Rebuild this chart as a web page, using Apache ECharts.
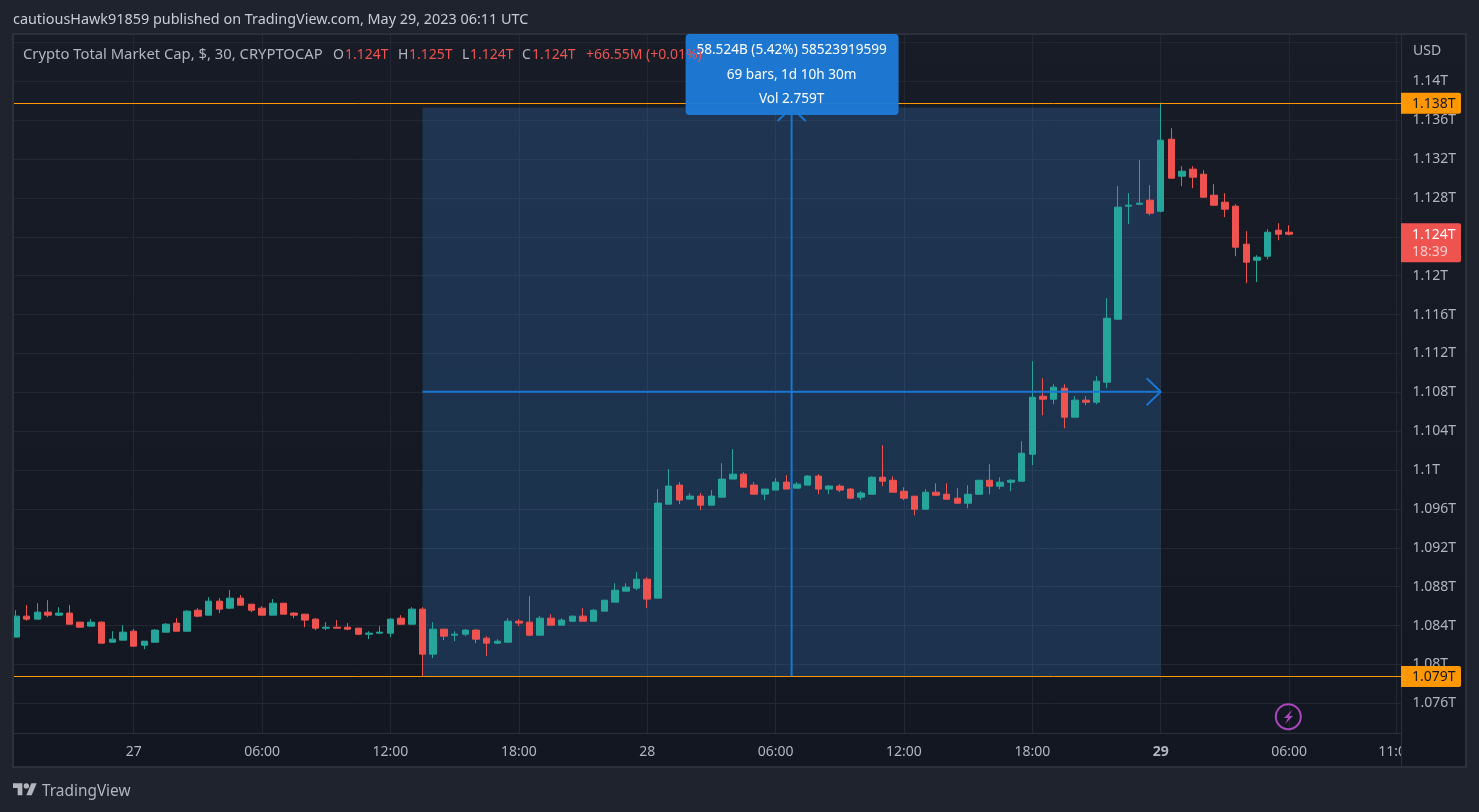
<!DOCTYPE html>
<html><head><meta charset="utf-8">
<script src="https://cdn.jsdelivr.net/npm/echarts@6/dist/echarts.min.js"></script>
<style>html,body{margin:0;padding:0;background:#1f232e;overflow:hidden}#c{width:1479px;height:812px}</style>
</head><body><div id="c"></div>
<script>
// candle values in billions USD
const opens=[1082.81,1084.97,1084.66,1085.38,1085.07,1085.28,1084.35,1083.94,1084.35,1082.29,1082.50,1083.42,1081.98,1082.29,1083.32,1084.25,1083.42,1085.58,1085.07,1086.51,1085.79,1086.82,1086.20,1085.79,1085.07,1086.30,1085.28,1085.17,1084.66,1083.73,1083.83,1083.83,1083.73,1083.11,1083.22,1083.22,1084.76,1084.14,1085.69,1081.06,1083.63,1083.01,1083.11,1083.53,1082.70,1082.19,1082.29,1084.45,1084.35,1083.01,1084.76,1084.04,1084.45,1084.97,1084.45,1085.48,1086.41,1087.54,1087.85,1088.77,1086.82,1096.49,1098.45,1097.01,1097.32,1096.39,1097.21,1099.07,1099.58,1098.45,1097.52,1097.94,1098.76,1098.14,1098.45,1099.38,1098.04,1098.35,1098.04,1097.21,1097.51,1099.26,1098.95,1097.82,1097.31,1095.97,1097.72,1097.51,1097.10,1096.59,1097.51,1098.95,1098.34,1098.75,1098.85,1101.63,1107.60,1107.29,1108.42,1105.44,1107.19,1106.98,1109.04,1115.52,1127.15,1127.35,1127.77,1126.63,1134.04,1130.24,1130.96,1130.44,1128.28,1127.56,1127.15,1123.24,1121.59,1122.00,1124.68,1124.47];
const closes=[1084.97,1084.66,1085.38,1085.07,1085.28,1084.14,1083.83,1084.35,1082.19,1082.60,1083.32,1081.88,1082.39,1083.53,1084.14,1083.42,1085.48,1084.97,1086.51,1085.69,1086.82,1086.10,1085.58,1085.07,1086.30,1085.17,1085.07,1084.56,1083.73,1083.83,1083.73,1083.63,1083.11,1083.22,1083.32,1084.66,1084.14,1085.69,1081.06,1083.63,1082.91,1083.11,1083.53,1082.60,1082.19,1082.39,1084.45,1084.25,1083.01,1084.76,1084.04,1084.56,1084.97,1084.45,1085.58,1086.61,1087.64,1087.95,1088.77,1086.72,1096.60,1098.35,1096.91,1097.32,1096.39,1097.32,1099.07,1099.58,1098.24,1097.52,1098.04,1098.76,1098.04,1098.55,1099.38,1098.04,1098.35,1097.94,1097.11,1097.63,1099.26,1098.85,1097.72,1097.10,1095.97,1097.72,1097.41,1097.00,1096.59,1097.51,1098.95,1098.34,1098.75,1098.95,1101.73,1107.49,1107.29,1108.52,1105.44,1107.19,1106.98,1109.14,1115.62,1127.05,1127.25,1127.46,1126.43,1133.94,1130.03,1130.75,1130.13,1128.07,1127.25,1126.84,1122.93,1121.39,1121.90,1124.47,1124.27,1124.27];
const lows=[1082.81,1084.49,1084.66,1084.86,1084.97,1084.14,1083.83,1083.94,1082.19,1082.29,1082.50,1081.88,1081.57,1082.29,1083.32,1083.42,1083.42,1084.86,1085.07,1085.28,1085.69,1086.10,1085.38,1085.07,1085.07,1085.17,1084.76,1083.83,1083.53,1083.53,1083.73,1083.53,1083.01,1082.60,1083.22,1082.81,1084.14,1084.14,1078.79,1080.64,1082.50,1082.39,1082.91,1082.19,1080.85,1082.09,1082.29,1083.94,1082.91,1083.01,1084.04,1084.04,1084.35,1084.45,1084.45,1085.48,1086.41,1087.54,1087.64,1085.79,1086.82,1096.49,1096.49,1097.01,1095.88,1096.39,1097.21,1099.07,1098.24,1097.52,1096.91,1097.94,1098.04,1098.14,1098.45,1097.52,1097.52,1097.73,1097.01,1096.91,1097.51,1098.34,1097.72,1096.90,1095.35,1095.97,1097.41,1097.00,1096.59,1096.07,1097.51,1097.51,1098.03,1097.82,1098.85,1100.50,1105.64,1106.77,1104.30,1105.44,1106.67,1106.77,1108.42,1115.52,1125.30,1127.25,1126.22,1126.53,1130.03,1129.21,1129.00,1128.07,1127.25,1126.02,1122.00,1119.22,1119.33,1121.69,1123.65,1124.16];
const highs=[1085.58,1086.10,1086.30,1086.61,1085.89,1086.10,1084.35,1084.66,1084.45,1083.42,1084.04,1083.63,1082.39,1083.63,1084.25,1084.76,1085.58,1085.79,1086.92,1086.82,1087.64,1087.13,1086.20,1085.99,1086.72,1086.30,1085.38,1085.17,1084.76,1084.35,1084.56,1084.25,1083.73,1083.42,1083.94,1084.76,1085.07,1085.89,1085.89,1084.35,1083.63,1083.42,1083.63,1083.63,1082.91,1082.60,1084.76,1084.66,1087.02,1084.97,1085.17,1084.76,1084.97,1085.79,1085.69,1086.61,1088.36,1088.36,1089.49,1088.98,1098.04,1100.10,1098.76,1097.63,1097.63,1097.94,1100.71,1102.15,1099.79,1098.76,1098.04,1099.17,1099.48,1098.76,1099.48,1099.58,1098.45,1098.55,1098.14,1097.83,1099.36,1102.55,1099.36,1098.23,1097.31,1098.03,1098.64,1098.64,1098.13,1098.44,1098.95,1100.60,1099.26,1099.06,1102.97,1111.20,1109.45,1108.83,1108.83,1107.60,1107.60,1109.65,1117.68,1129.21,1128.49,1131.88,1129.31,1137.80,1135.17,1131.26,1131.26,1130.85,1129.41,1128.49,1127.35,1124.58,1122.11,1124.78,1125.40,1125.19];
// time axis: bar index -> label (12 bars = 6 hours), 10 empty bars to the right
const barCount=130;
const timeTickIndex=[11,23,35,47,59,71,83,95,107,119,129];
const timeTickLabels=['27','06:00','12:00','18:00','28','06:00','12:00','18:00','29','06:00','11:00'];
const boldTimeLabels=['29'];
const priceTicks=[1076,1080,1084,1088,1092,1096,1100,1104,1108,1112,1116,1120,1124,1128,1132,1136,1140];
const priceTickLabels=['1.076T','1.08T','1.084T','1.088T','1.092T','1.096T','1.1T','1.104T','1.108T','1.112T','1.116T','1.12T','1.124T','1.128T','1.132T','1.136T','1.14T'];
const measureStart=38, measureEnd=107, measureMid=72.5;
const measureLow=1078.79, measureHigh=1137.31, measureCenter=1108.05;
const rangeHigh=1137.75, rangeLow=1078.77, lastPrice=1124.27;
const vLine=[[measureMid,measureLow],[measureMid,measureHigh]];
const hLine=[[measureStart,measureCenter],[measureEnd,measureCenter]];
const upChevron=[[71.19,1135.92],[measureMid,measureHigh],[73.81,1135.92]];
const rightChevron=[[105.69,1109.44],[measureEnd,measureCenter],[105.69,1106.66]];
const infoLines=['58.524B (5.42%) 58523919599','69 bars, 1d 10h 30m','Vol 2.759T'];
const headerText='cautiousHawk91859 published on TradingView.com, May 29, 2023 06:11 UTC';
const legendParts=[['Crypto Total Market Cap, $, 30, CRYPTOCAP',23,0,14.8],['O',333,0,14],['1.124T',345,1,14],['H',398,0,14],['1.125T',409,1,14],['L',462,0,14],['1.124T',470,1,14],['C',522,0,14],['1.124T',532,1,14],['+66.55M',586,1,14],['(+0.01%)',646,1,14]];

const FONT='"Noto Sans"';
const PAGE='#1f232e',GREEN='#26a69a',RED='#ef5350',GRID='#232733',BORDER='#2c303b',TXT='#b2b5be',BLUE='#1976d2',ORANGE='#ff9800';
const categories=Array.from({length:barCount},(_,i)=>{const k=timeTickIndex.indexOf(i);return k>=0?timeTickLabels[k]:'';});
const candles=opens.map((o,i)=>[o,closes[i],lows[i],highs[i]]);
const isTick=i=>timeTickIndex.indexOf(i)>=0;
const blueLine=(data)=>({type:'line',xAxisIndex:1,yAxisIndex:0,data,showSymbol:false,symbol:'none',silent:true,animation:false,z:5,lineStyle:{color:BLUE,width:2}});

const chart=echarts.init(document.getElementById('c'),null,{renderer:'canvas'});
chart.setOption({
 animation:false,
 backgroundColor:PAGE,
 grid:{left:10.65,top:3.54,width:1390.75,height:738.64,containLabel:false},
 xAxis:[{type:'category',data:categories,boundaryGap:true,position:'bottom',
   axisLine:{show:false},axisTick:{show:false,alignWithLabel:true},
   alignWithLabel:true,
   splitLine:{show:true,interval:(i)=>isTick(i),alignWithLabel:true,lineStyle:{color:GRID,width:1}},
   axisLabel:{interval:(i)=>isTick(i),margin:3,hideOverlap:false,showMinLabel:true,showMaxLabel:true,color:TXT,fontFamily:FONT,fontSize:14,
     formatter:(v)=>boldTimeLabels.indexOf(v)>=0?'{b|'+v+'}':v,rich:{b:{fontWeight:'bold',fontSize:14,fontFamily:FONT,color:TXT}}}},
  {type:'value',min:-0.5,max:129.5,show:false,splitLine:{show:false}}],
 yAxis:{type:'value',position:'right',min:1072,max:1148,interval:4,scale:true,
   axisLine:{show:true,onZero:false,lineStyle:{color:BORDER,width:1}},axisTick:{show:false},
   splitLine:{show:true,lineStyle:{color:GRID,width:1}},
   axisLabel:{margin:11,align:'left',color:TXT,fontFamily:FONT,fontSize:14,padding:[4,0,0,0],
     formatter:(v)=>{const k=priceTicks.indexOf(Math.round(v*100)/100);return k>=0?priceTickLabels[k]:'';}}},
 series:[
  {type:'candlestick',xAxisIndex:0,yAxisIndex:0,data:candles,barWidth:7,z:3,silent:true,
   itemStyle:{color:GREEN,color0:RED,borderColor:GREEN,borderColor0:RED,borderWidth:1},
   markArea:{silent:true,z:1,itemStyle:{color:'rgba(60,155,250,0.2)'},data:[[{coord:[measureStart,measureLow]},{coord:[measureEnd,measureHigh]}]]},
   markLine:{silent:true,symbol:'none',animation:false,label:{show:false},lineStyle:{color:ORANGE,width:1,type:'solid'},data:[{yAxis:rangeHigh},{yAxis:rangeLow}]}},
  blueLine(vLine),blueLine(hLine),blueLine(upChevron),blueLine(rightChevron)
 ]
});
const py=v=>chart.convertToPixel({yAxisIndex:0},v);
const px=v=>chart.convertToPixel({xAxisIndex:1},v);
const t=(x,y,text,fill,size,o)=>({type:'text',x,y,z:100,silent:true,style:Object.assign({text,fill,font:(size||14)+'px '+FONT,verticalAlign:'middle'},o||{})});
const r=(x,y,w,h,fill,o)=>({type:'rect',silent:true,z:100,shape:Object.assign({x,y,width:w,height:h},o||{}),style:{fill}});
const LOGO=.667,LX=13,LY=780.6;
const logoPts=pts=>pts.map(p=>[LX+p[0]*LOGO,LY+p[1]*LOGO]);
const infoX=px(measureMid);
const elements=[
 // pane background, under the chart
 {type:'rect',silent:true,z:-10,shape:{x:12,y:33,width:1455,height:735},style:{fill:BORDER}},
 {type:'rect',silent:true,z:-9,shape:{x:14,y:35,width:1451,height:731},style:{fill:new echarts.graphic.LinearGradient(0,0,0,1,[{offset:0,color:'#181c27'},{offset:1,color:'#131722'}])}},
 // trims around the pane
 r(0,0,12,812,PAGE),
 r(0,0,1479,33,PAGE),
 r(12,33,1455,2,BORDER),
 r(12,33,2,735,BORDER),
 r(14,733,1388,10,'#131722'),
 r(14,733,1387,1,BORDER),
 r(1402,733,63,33,'#131722'),
 r(1401,733,1,34,BORDER),
 // measure info box
 r(infoX-106,34,213,81,'rgba(30,123,214,0.97)',{r:4}),
 t(infoX,50,infoLines[0],'#fff',13.6,{align:'center'}),
 t(infoX,75,infoLines[1],'#fff',13.6,{align:'center'}),
 t(infoX,99,infoLines[2],'#fff',13.6,{align:'center'}),
 // price tags
 r(1401,py(rangeHigh)-10.5,60,21,ORANGE,{r:[0,2,2,0]}),
 t(1412,py(rangeHigh)+1,'1.138T','#131722',14),
 r(1401,py(rangeLow)-10.5,60,21,ORANGE,{r:[0,2,2,0]}),
 t(1412,py(rangeLow)+1,'1.079T','#131722',14),
 r(1401,py(lastPrice)-11,60,39,RED,{r:[0,2,2,0]}),
 t(1412,py(lastPrice)+1,'1.124T','#fff',14),
 t(1412,py(lastPrice)+18,'18:39','rgba(255,255,255,0.7)',14),
 t(1413,51,'USD',TXT,14),
 // header and footer
 t(13,20,headerText,'#c9ccd4',14.4),
 t(42,792,'TradingView',TXT,15.4),
 {type:'polygon',silent:true,z:100,shape:{points:logoPts([[0,4],[14,4],[14,22],[7,22],[7,11],[0,11]])},style:{fill:TXT}},
 {type:'polygon',silent:true,z:100,shape:{points:logoPts([[27.5,4],[35.5,4],[28,22],[20,22]])},style:{fill:TXT}},
 {type:'circle',silent:true,z:100,shape:{cx:LX+20*LOGO,cy:LY+8*LOGO,r:2.67},style:{fill:TXT}},
 // lightning icon
 {type:'circle',silent:true,z:100,shape:{cx:1288.3,cy:716.7,r:12.5},style:{fill:'none',stroke:'#ab47bc',lineWidth:2}},
 {type:'polygon',silent:true,z:100,shape:{points:[[1292,710],[1284,718],[1288,718],[1285,724],[1293,716],[1289,716]]},style:{fill:'#ab47bc'}}
];
legendParts.forEach(p=>elements.push(t(p[1],55,p[0],p[2]?RED:TXT,p[3])));
chart.setOption({graphic:{elements}});
</script></body></html>
